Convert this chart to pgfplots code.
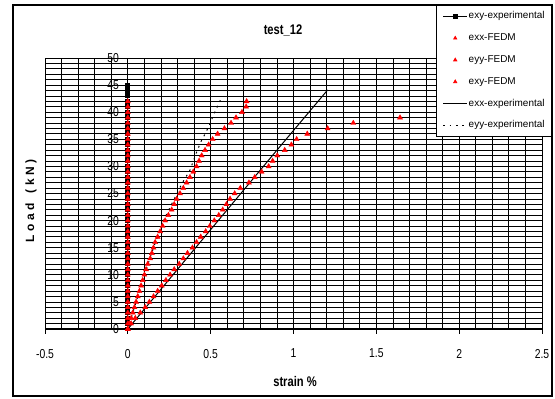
\documentclass[border=0pt]{standalone}
\usepackage{pgfplots}
\pgfplotsset{compat=1.18}
\usepackage{fontspec}
\setmainfont{Liberation Sans}
\newfontfamily\cf{Liberation Sans}[FakeStretch=0.8]
\begin{document}
\begin{tikzpicture}
\path[use as bounding box] (0,0) rectangle (555bp,399bp);
\draw[black, line width=1.2bp] (13bp,3bp) rectangle (552bp,394bp);
\begin{axis}[
 at={(45bp,70bp)}, anchor=south west,
 scale only axis, width=497bp, height=271bp,
 xmin=-0.5, xmax=2.5, ymin=0, ymax=50,
 axis x line=bottom, axis y line=middle,
 axis line style={-, black, line width=1bp},
 hide obscured x ticks=false, hide obscured y ticks=false,
 xtick={-0.5,0,0.5,1,1.5,2,2.5},
 ytick={0,5,...,50},
 minor x tick num=4, minor y tick num=4,
 grid=both,
 major grid style={black, line width=0.8bp},
 minor grid style={black, line width=0.8bp},
 minor tick length=0pt,
 major tick length=4.5bp,
 tick align=outside,
 tick style={black, line width=0.8bp},
 tick label style={font=\cf\fontsize{13}{13}\selectfont},
 /pgf/number format/assume math mode=true,
 xticklabel style={yshift=-12bp},
 yticklabel style={xshift=-1bp},
 clip=false,
 legend style={at={(1.0201,1.1956)}, anchor=north east, draw=black, line width=0.8bp,
   font=\fontsize{10}{12}\selectfont, inner xsep=6bp, inner ysep=5.5bp, row sep=10.8bp,
   nodes={inner sep=1bp, text height=7bp, text depth=2bp}},
 legend cell align=left,
 legend image code/.code={\draw[mark repeat=2,mark phase=2,#1] plot coordinates {(0bp,0bp) (12bp,0bp) (24bp,0bp)};},
 legend image post style={mark size=1.8pt},
]
% exy-experimental
\addplot[black, line width=1bp, mark=square*, mark size=2pt] coordinates {
(0,0) (0,1) (0,2) (0,3) (0,4) (0,5) (0,6) (0,7) (0,8) (0,9) (0,10)
(0,11) (0,12) (0,13) (0,14) (0,15) (0,16) (0,17) (0,18) (0,19) (0,20)
(0,21) (0,22) (0,23) (0,24) (0,25) (0,26) (0,27) (0,28) (0,29) (0,30)
(0,31) (0,32) (0,33) (0,34) (0,35) (0,36) (0,37) (0,38) (0,39) (0,40)
(0,41) (0,42) (0,43) (0,44) (0,45)};
\addlegendentry{exy-experimental}
% exx-FEDM
\addplot[only marks, mark=triangle*, mark size=2.9pt, color=red, mark options={fill=red, draw=red}] coordinates {
(0,0) (0.02,1) (0.045,2) (0.075,3) (0.105,4) (0.13,5) (0.155,6) (0.18,7) (0.205,8) (0.23,9) (0.255,10)
(0.28,11) (0.31,12) (0.335,13) (0.36,14) (0.39,15) (0.415,16) (0.44,17) (0.47,18) (0.495,19) (0.522,20)
(0.549,21) (0.573,22) (0.595,23) (0.617,24) (0.645,25) (0.679,26) (0.731,27) (0.766,28) (0.808,29) (0.85,30)
(0.874,31) (0.902,32) (0.947,33) (0.987,34) (1.019,35) (1.083,36) (1.206,37) (1.361,38) (1.643,39)};
\addlegendentry{exx-FEDM}
% eyy-FEDM
\addplot[only marks, mark=triangle*, mark size=2.9pt, color=red, mark options={fill=red, draw=red}] coordinates {
(0,0) (0.01,1) (0.02,2) (0.03,3) (0.04,4) (0.05,5) (0.06,6) (0.07,7) (0.08,8) (0.09,9) (0.10,10)
(0.11,11) (0.12,12) (0.135,13) (0.145,14) (0.155,15) (0.165,16) (0.18,17) (0.195,18) (0.21,19) (0.225,20)
(0.245,21) (0.265,22) (0.28,23) (0.295,24) (0.315,25) (0.335,26) (0.355,27) (0.375,28) (0.395,29) (0.415,30)
(0.43,31) (0.446,32) (0.466,33) (0.488,34) (0.512,35) (0.542,36) (0.583,37) (0.623,38) (0.653,39) (0.689,40)
(0.714,41) (0.717,42)};
\addlegendentry{eyy-FEDM}
% exy-FEDM
\addplot[only marks, mark=triangle*, mark size=2.9pt, color=red, mark options={fill=red, draw=red}] coordinates {
(0,0) (0,1) (0,2) (0,3) (0,4) (0,5) (0,6) (0,7) (0,8) (0,9) (0,10)
(0,11) (0,12) (0,13) (0,14) (0,15) (0,16) (0,17) (0,18) (0,19) (0,20)
(0,21) (0,22) (0,23) (0,24) (0,25) (0,26) (0,27) (0,28) (0,29) (0,30)
(0,31) (0,32) (0,33) (0,34) (0,35) (0,36) (0,37) (0,38) (0,39) (0,40)
(0,41) (0,42)};
\addlegendentry{exy-FEDM}
% exx-experimental
\addplot[black, line width=1bp, no marks] coordinates {
(0,0) (0.3,11) (0.6,22) (0.9,33) (1.206,44.1)};
\addlegendentry{exx-experimental}
% eyy-experimental
\addplot[black, line width=1bp, no marks, dash pattern=on 1.8bp off 4.5bp] coordinates {
(0,0) (0.05,5) (0.1,10) (0.155,15) (0.215,20) (0.28,24) (0.33,27) (0.375,29.3) (0.416,32.7)
(0.442,34.6) (0.468,36.1) (0.492,37.6) (0.516,39.4) (0.54,41) (0.567,42.8)};
\addlegendentry{eyy-experimental}
\end{axis}
\node at (283bp,369bp) {\cf\bfseries\fontsize{14}{14}\selectfont test\_12};
\node at (295bp,17bp) {\cf\bfseries\fontsize{14}{14}\selectfont strain \%};
\node[rotate=90] at (31bp,198bp) {\bfseries\fontsize{12}{12}\selectfont L\kern3.5bp o\kern3.5bp a\kern3.5bp d\kern3.5bp\ \kern3.5bp(\kern3.5bp k\kern3.5bp N\kern3.5bp)};
\end{tikzpicture}
\end{document}
